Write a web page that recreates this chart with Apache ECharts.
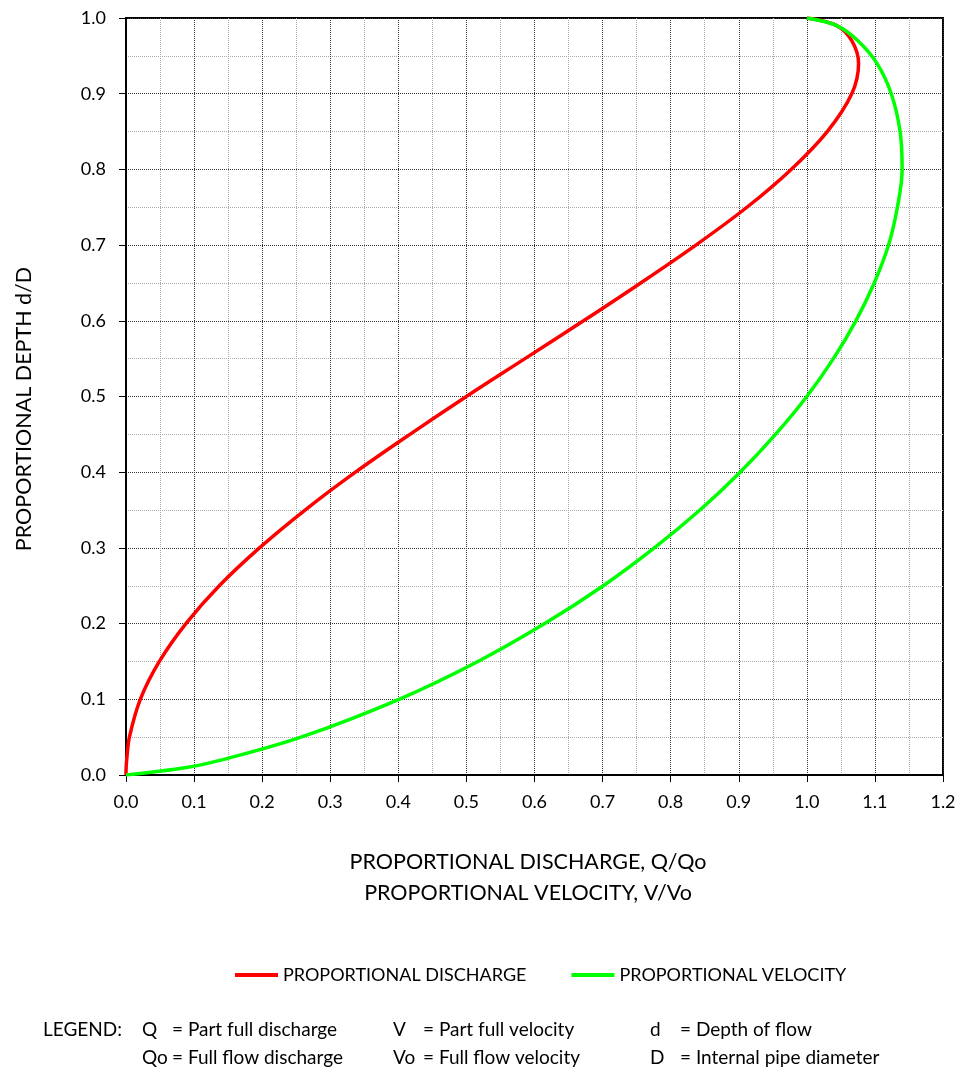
<!DOCTYPE html>
<html>
<head>
<meta charset="utf-8">
<script src="https://cdn.jsdelivr.net/npm/echarts@6/dist/echarts.min.js"></script>
<style>
  html, body { margin: 0; padding: 0; background: #fff; }
  #main { width: 961px; height: 1068px; }
</style>
</head>
<body>
<div id="main"></div>
<script>
// proportional depth d/D (y axis)
var depth = [0, 0.01, 0.02, 0.05, 0.1, 0.15, 0.2, 0.25, 0.3, 0.35, 0.4, 0.45, 0.5, 0.55, 0.6, 0.65, 0.7, 0.75, 0.8, 0.85, 0.9, 0.94, 0.97, 0.99, 1.0];
// proportional discharge Q/Qo
var discharge = [0, 0.0002, 0.001, 0.005, 0.021, 0.049, 0.088, 0.137, 0.196, 0.263, 0.337, 0.417, 0.5, 0.586, 0.672, 0.756, 0.837, 0.912, 0.977, 1.030, 1.066, 1.076, 1.066, 1.044, 1.0];
// proportional velocity V/Vo
var velocity = [0, 0.089, 0.141, 0.257, 0.401, 0.517, 0.615, 0.701, 0.776, 0.843, 0.902, 0.954, 1.0, 1.039, 1.072, 1.099, 1.120, 1.133, 1.140, 1.137, 1.124, 1.103, 1.075, 1.044, 1.0];

// notes under the chart: symbol / meaning, one column each
var noteSymbols = [['Q', 'Qo'], ['V', 'Vo'], ['d', 'D']];
var noteTexts = [
  ['= Part full discharge', '= Full flow discharge'],
  ['= Part full velocity', '= Full flow velocity'],
  ['= Depth of flow', '= Internal pipe diameter']
];

var FONT = 'Lato';
var noteCols = [142, 393, 650];
var noteRows = [1030, 1058];

function pairs(xs) {
  return xs.map(function (x, i) { return [x, depth[i]]; });
}

var graphics = [
  { type: 'text', x: 24, y: 409, rotation: Math.PI / 2,
    style: { text: 'PROPORTIONAL DEPTH d/D', font: '21.5px ' + FONT, fill: '#000',
      textAlign: 'center', textVerticalAlign: 'middle' } },
  { type: 'text', x: 528, y: 862,
    style: { text: 'PROPORTIONAL DISCHARGE, Q/Qo', font: '21.5px ' + FONT, fill: '#000',
      textAlign: 'center', textVerticalAlign: 'middle' } },
  { type: 'text', x: 528, y: 893,
    style: { text: 'PROPORTIONAL VELOCITY, V/Vo', font: '21.5px ' + FONT, fill: '#000',
      textAlign: 'center', textVerticalAlign: 'middle' } },
  { type: 'text', x: 43, y: noteRows[0],
    style: { text: 'LEGEND:', font: '19px ' + FONT, fill: '#000', textVerticalAlign: 'middle' } }
];
noteSymbols.forEach(function (col, c) {
  col.forEach(function (sym, r) {
    graphics.push({ type: 'text', x: noteCols[c], y: noteRows[r],
      style: { text: sym, font: '19px ' + FONT, fill: '#000', textVerticalAlign: 'middle' } });
    graphics.push({ type: 'text', x: noteCols[c] + 30, y: noteRows[r],
      style: { text: noteTexts[c][r], font: '19px ' + FONT, fill: '#000', textVerticalAlign: 'middle' } });
  });
});

var chart = echarts.init(document.getElementById('main'));
var option = {
  animation: false,
  textStyle: { fontFamily: FONT, color: '#000' },
  grid: {
    left: 126, top: 18, width: 817, height: 757,
    show: true, borderColor: '#000', borderWidth: 2, backgroundColor: 'transparent'
  },
  xAxis: {
    type: 'value', min: 0, max: 1.2, interval: 0.1,
    axisLine: { show: true, lineStyle: { color: '#000', width: 2 } },
    axisTick: { show: true, length: 7, lineStyle: { color: '#000' } },
    axisLabel: { fontSize: 18, fontFamily: FONT, color: '#000', margin: 18,
      formatter: function (v) { return v.toFixed(1); } },
    splitLine: { show: true, lineStyle: { color: '#333', type: 'dotted', width: 1 } },
    minorTick: { show: false, splitNumber: 2 },
    minorSplitLine: { show: true, lineStyle: { color: '#aaa', type: 'dotted', width: 1 } }
  },
  yAxis: {
    type: 'value', min: 0, max: 1.0, interval: 0.1,
    axisLine: { show: true, lineStyle: { color: '#000', width: 2 } },
    axisTick: { show: true, length: 7, lineStyle: { color: '#000' } },
    axisLabel: { fontSize: 18, fontFamily: FONT, color: '#000', margin: 20,
      formatter: function (v) { return v.toFixed(1); } },
    splitLine: { show: true, lineStyle: { color: '#333', type: 'dotted', width: 1 } },
    minorTick: { show: false, splitNumber: 2 },
    minorSplitLine: { show: true, lineStyle: { color: '#aaa', type: 'dotted', width: 1 } }
  },
  legend: {
    top: 961, left: 230,
    itemWidth: 43, itemHeight: 4, itemGap: 45,
    icon: 'rect',
    textStyle: { fontSize: 18, fontFamily: FONT, color: '#000' },
    data: ['PROPORTIONAL DISCHARGE', 'PROPORTIONAL VELOCITY']
  },
  graphic: graphics,
  series: [
    {
      name: 'PROPORTIONAL DISCHARGE', type: 'line', smooth: 0.35,
      showSymbol: false, symbol: 'none',
      lineStyle: { color: '#ff0000', width: 3.5 }, itemStyle: { color: '#ff0000' },
      data: pairs(discharge)
    },
    {
      name: 'PROPORTIONAL VELOCITY', type: 'line', smooth: 0.35,
      showSymbol: false, symbol: 'none',
      lineStyle: { color: '#00ff00', width: 3.5 }, itemStyle: { color: '#00ff00' },
      data: pairs(velocity)
    }
  ]
};
chart.setOption(option);
</script>
</body>
</html>
